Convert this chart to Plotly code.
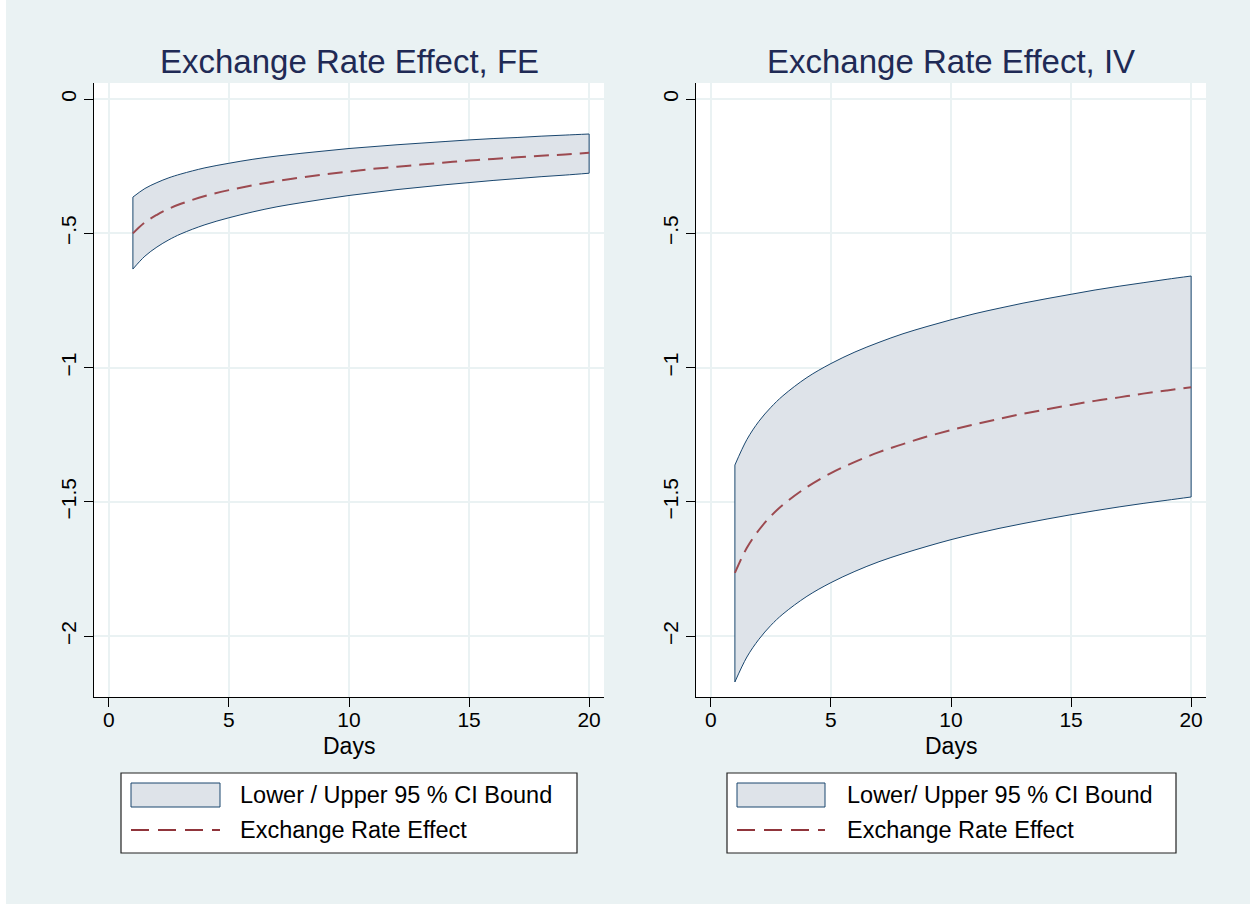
import plotly.graph_objects as go

# ---------------- data ----------------
days = [1, 1.5, 2, 2.5, 3, 4, 5, 6, 7, 8, 9, 10, 11, 12, 13, 14, 15, 16, 17, 18, 19, 20]

fe_upper = [-0.365, -0.333, -0.311, -0.293, -0.279, -0.256, -0.239, -0.224, -0.212, -0.202, -0.193,
            -0.184, -0.177, -0.170, -0.164, -0.158, -0.152, -0.147, -0.143, -0.138, -0.134, -0.130]
fe_effect = [-0.500, -0.459, -0.431, -0.408, -0.390, -0.361, -0.339, -0.321, -0.305, -0.292, -0.280,
             -0.270, -0.260, -0.252, -0.244, -0.236, -0.229, -0.223, -0.217, -0.211, -0.206, -0.200]
fe_lower = [-0.633, -0.585, -0.551, -0.524, -0.502, -0.468, -0.442, -0.420, -0.401, -0.386, -0.372,
            -0.359, -0.348, -0.337, -0.328, -0.319, -0.311, -0.303, -0.296, -0.289, -0.283, -0.276]

iv_upper = [-1.363, -1.268, -1.200, -1.148, -1.105, -1.037, -0.985, -0.942, -0.906, -0.874, -0.847,
            -0.822, -0.799, -0.779, -0.760, -0.743, -0.727, -0.711, -0.697, -0.684, -0.671, -0.659]
iv_effect = [-1.765, -1.671, -1.605, -1.553, -1.511, -1.445, -1.393, -1.351, -1.315, -1.285, -1.257,
             -1.233, -1.211, -1.191, -1.172, -1.155, -1.139, -1.124, -1.111, -1.097, -1.085, -1.073]
iv_lower = [-2.171, -2.078, -2.012, -1.960, -1.918, -1.852, -1.801, -1.759, -1.723, -1.693, -1.666,
            -1.641, -1.619, -1.599, -1.581, -1.564, -1.548, -1.533, -1.519, -1.506, -1.494, -1.482]

titles = ["Exchange Rate Effect, FE", "Exchange Rate Effect, IV"]
ci_labels = ["Lower / Upper 95 % CI Bound", "Lower/ Upper 95 % CI Bound"]
effect_label = "Exchange Rate Effect"
x_title = "Days"
x_ticks = [0, 5, 10, 15, 20]
y_ticks = [0, -0.5, -1, -1.5, -2]
y_ticktext = ["0", "\u2212.5", "\u22121", "\u22121.5", "\u22122"]

# ---------------- styling ----------------
W, H = 1255, 904
BG = "#eaf2f3"
FILL = "#dee3e9"
NAVY = "#1a476f"
MAROON = "#9c4a50"
MAROON_LEG = "#90353b"
TITLE_COL = "#1f2a55"
FONT = "Liberation Sans, Arial, sans-serif"


def px(x):
    return x / W


def py(y):
    return 1 - y / H


fig = go.Figure()

panels = [
    dict(lower=fe_lower, upper=fe_upper, eff=fe_effect, x0=94, x1=604,
         leg=(121, 577), sw=(131, 220), tx=238),
    dict(lower=iv_lower, upper=iv_upper, eff=iv_effect, x0=696, x1=1206,
         leg=(727, 1176), sw=(737, 825), tx=845),
]

shapes = [
    dict(type="rect", xref="paper", yref="paper", x0=0, x1=px(6), y0=0, y1=1,
         fillcolor="white", line=dict(width=0), layer="above"),
    dict(type="rect", xref="paper", yref="paper", x0=px(1250), x1=1, y0=0, y1=1,
         fillcolor="white", line=dict(width=0), layer="above"),
]
annotations = []

for i, p in enumerate(panels):
    xa = "x" if i == 0 else "x2"
    ya = "y" if i == 0 else "y2"
    # band
    fig.add_trace(go.Scatter(x=days, y=p["lower"], xaxis=xa, yaxis=ya, mode="lines",
                             line=dict(color=NAVY, width=1, shape="spline"),
                             showlegend=False, hoverinfo="skip"))
    fig.add_trace(go.Scatter(x=days, y=p["upper"], xaxis=xa, yaxis=ya, mode="lines",
                             line=dict(color=NAVY, width=1, shape="spline"),
                             fill="tonexty", fillcolor=FILL,
                             showlegend=False, hoverinfo="skip"))
    # vertical edges of band
    fig.add_trace(go.Scatter(x=[days[0], days[0], None, days[-1], days[-1]],
                             y=[p["lower"][0], p["upper"][0], None, p["lower"][-1], p["upper"][-1]],
                             xaxis=xa, yaxis=ya, mode="lines",
                             line=dict(color=NAVY, width=1),
                             showlegend=False, hoverinfo="skip"))
    # effect
    fig.add_trace(go.Scatter(x=days, y=p["eff"], xaxis=xa, yaxis=ya, mode="lines",
                             line=dict(color=MAROON, width=2, dash="15px,8px", shape="spline"),
                             showlegend=False, hoverinfo="skip"))

    cx = (p["x0"] + p["x1"]) / 2
    annotations.append(dict(text=titles[i], x=px(cx), y=py(61), xref="paper", yref="paper",
                            xanchor="center", yanchor="middle", showarrow=False,
                            font=dict(family=FONT, size=33, color=TITLE_COL)))
    annotations.append(dict(text=x_title, x=px(cx), y=py(746), xref="paper", yref="paper",
                            xanchor="center", yanchor="middle", showarrow=False,
                            font=dict(family=FONT, size=23, color="black")))
    # legend box
    lx0, lx1 = p["leg"]
    shapes.append(dict(type="rect", xref="paper", yref="paper", x0=px(lx0), x1=px(lx1),
                       y0=py(853), y1=py(773), fillcolor="white",
                       line=dict(color="#222222", width=1.2)))
    sx0, sx1 = p["sw"]
    shapes.append(dict(type="rect", xref="paper", yref="paper", x0=px(sx0), x1=px(sx1),
                       y0=py(807), y1=py(783), fillcolor=FILL,
                       line=dict(color=NAVY, width=1)))
    shapes.append(dict(type="line", xref="paper", yref="paper", x0=px(sx0), x1=px(sx1),
                       y0=py(830), y1=py(830),
                       line=dict(color=MAROON_LEG, width=2, dash="18px,9px")))
    annotations.append(dict(text=ci_labels[i], x=px(p["tx"]), y=py(795), xref="paper", yref="paper",
                            xanchor="left", yanchor="middle", showarrow=False,
                            font=dict(family=FONT, size=23.5, color="black")))
    annotations.append(dict(text=effect_label, x=px(p["tx"]), y=py(830), xref="paper", yref="paper",
                            xanchor="left", yanchor="middle", showarrow=False,
                            font=dict(family=FONT, size=23.5, color="black")))

axis_common = dict(showline=True, linecolor="black", linewidth=1, ticks="outside",
                   ticklen=9, tickcolor="black", tickwidth=1, showgrid=True,
                   gridcolor=BG, gridwidth=2, zeroline=False,
                   tickfont=dict(family=FONT, size=21, color="black"))

xr = [-0.62, 20.62]
yr = [-2.227, 0.06]
ydom = [py(697), py(83)]

fig.update_layout(
    width=W, height=H,
    paper_bgcolor=BG, plot_bgcolor="white",
    margin=dict(l=0, r=0, t=0, b=0),
    showlegend=False,
    xaxis=dict(domain=[px(94), px(604)], range=xr, tickvals=x_ticks, anchor="y",
               ticklabelstandoff=-5, **axis_common),
    yaxis=dict(domain=ydom, range=yr, tickvals=y_ticks, ticktext=y_ticktext,
               tickangle=-90, anchor="x", **axis_common),
    xaxis2=dict(domain=[px(696), px(1206)], range=xr, tickvals=x_ticks, anchor="y2",
                ticklabelstandoff=-5, **axis_common),
    yaxis2=dict(domain=ydom, range=yr, tickvals=y_ticks, ticktext=y_ticktext,
                tickangle=-90, anchor="x2", **axis_common),
    shapes=shapes,
    annotations=annotations,
)

fig.write_html(
    "out.html",
    config={"displayModeBar": False},
    post_script="document.body.style.margin='0';document.body.style.padding='0';"
                "document.body.style.overflow='hidden';",
)
